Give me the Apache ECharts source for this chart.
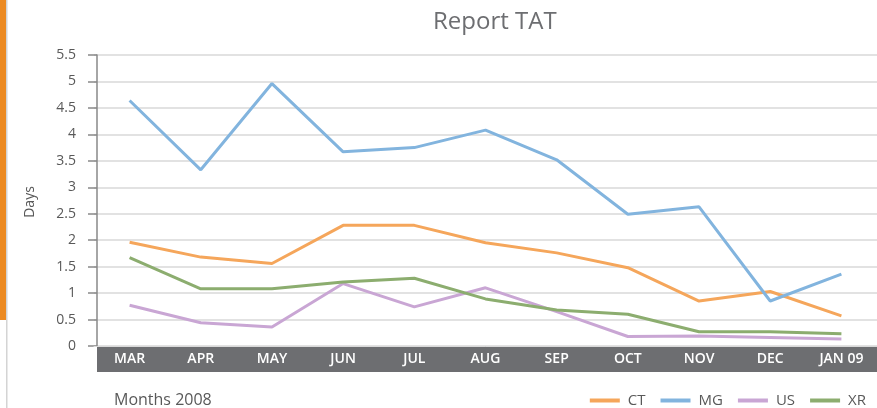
<!DOCTYPE html>
<html>
<head>
<meta charset="utf-8">
<script src="https://cdn.jsdelivr.net/npm/echarts@6/dist/echarts.min.js"></script>
<style>
html,body{margin:0;padding:0;background:#fff;}
#chart{width:877px;height:408px;}
</style>
</head>
<body>
<div id="chart"></div>
<script>
var categories = ['MAR','APR','MAY','JUN','JUL','AUG','SEP','OCT','NOV','DEC','JAN 09'];
var ctValues = [1.96, 1.68, 1.56, 2.28, 2.28, 1.95, 1.76, 1.48, 0.85, 1.03, 0.57];
var mgValues = [4.64, 3.33, 4.96, 3.67, 3.75, 4.08, 3.52, 2.49, 2.63, 0.85, 1.36];
var usValues = [0.77, 0.44, 0.36, 1.18, 0.74, 1.10, 0.65, 0.18, 0.19, 0.16, 0.13];
var xrValues = [1.67, 1.08, 1.08, 1.21, 1.28, 0.89, 0.68, 0.60, 0.27, 0.27, 0.23];
var yTicks = {min: 0, max: 5.5, interval: 0.5};

var FONT = 'Open Sans';
var chart = echarts.init(document.getElementById('chart'));

function line(name, data, color) {
  return {
    name: name, type: 'line', data: data, symbol: 'none',
    lineStyle: {color: color, width: 3}, itemStyle: {color: color},
    z: 3
  };
}

chart.setOption({
  animation: false,
  textStyle: {fontFamily: FONT},
  title: {
    text: 'Report TAT', left: 433, top: 10, padding: 0,
    textStyle: {fontFamily: FONT, fontSize: 24, fontWeight: 'normal', color: '#6d6e71'}
  },
  legend: {
    right: 6, top: 388, itemWidth: 30, itemHeight: 4, itemGap: 15, icon: 'rect',
    textStyle: {fontFamily: FONT, fontSize: 15, color: '#595959', padding: [0, 0, 0, 3]},
    data: ['CT', 'MG', 'US', 'XR']
  },
  grid: {left: 94, top: 55, width: 795, height: 291, containLabel: false},
  xAxis: {
    type: 'category', data: categories, boundaryGap: true,
    axisLine: {lineStyle: {color: '#d9d9d9', width: 1}},
    axisTick: {show: false},
    axisLabel: {color: '#ffffff', fontFamily: FONT, fontSize: 14, fontWeight: 600, margin: 6, interval: 0},
    z: 5
  },
  yAxis: {
    type: 'value', min: yTicks.min, max: yTicks.max, interval: yTicks.interval, offset: -3,
    axisLine: {show: true, lineStyle: {color: '#898989', width: 1.5}},
    axisTick: {show: true, length: 9, lineStyle: {color: '#898989', width: 1.5}},
    axisLabel: {color: '#595959', fontFamily: FONT, fontSize: 14, margin: 21},
    splitLine: {lineStyle: {color: '#d9d9d9', width: 1.5}}
  },
  graphic: [
    {type: 'rect', z: -10, shape: {x: 0, y: 0, width: 6, height: 320}, style: {fill: '#ec8a22'}},
    {type: 'rect', z: -10, shape: {x: 6, y: 0, width: 1.5, height: 408}, style: {fill: '#d4d4d4'}},
    {type: 'rect', z: -10, shape: {x: 97, y: 346, width: 780, height: 26}, style: {fill: '#6d6e71'}},
    {type: 'text', z: 10, x: 30, y: 202, rotation: Math.PI / 2,
      style: {text: 'Days', fill: '#595959', font: '14px "Open Sans"', textAlign: 'center', textVerticalAlign: 'middle'}},
    {type: 'text', z: 10, x: 114, y: 400,
      style: {text: 'Months 2008', fill: '#595959', font: '16px "Open Sans"', textAlign: 'left', textVerticalAlign: 'middle'}}
  ],
  series: [
    line('CT', ctValues, '#f5a65b'),
    line('MG', mgValues, '#82b4de'),
    line('US', usValues, '#c9a6d4'),
    line('XR', xrValues, '#8cad6f')
  ]
});
</script>
</body>
</html>
